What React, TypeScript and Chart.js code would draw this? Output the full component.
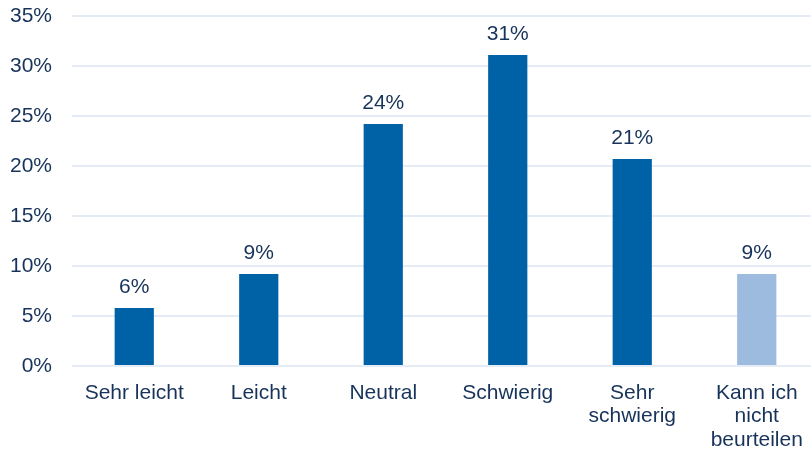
import React, { useEffect, useRef } from "react";
import { Chart, registerables } from "chart.js";

Chart.register(...registerables);

const categories: (string | string[])[] = [
  "Sehr leicht",
  "Leicht",
  "Neutral",
  "Schwierig",
  ["Sehr", "schwierig"],
  ["Kann ich", "nicht", "beurteilen"],
];
const values = [5.8, 9.2, 24.2, 31.1, 20.7, 9.2];
const valueLabels = ["6%", "9%", "24%", "31%", "21%", "9%"];
const barColors = ["#0062A6", "#0062A6", "#0062A6", "#0062A6", "#0062A6", "#9DBADF"];
const yTicks = [0, 5, 10, 15, 20, 25, 30, 35];

const TEXT = "#17335A";
const FONT = "'Liberation Sans', Arial, sans-serif";

const labelPlugin = {
  id: "valueLabels",
  afterDatasetsDraw(chart: any) {
    const ctx = chart.ctx;
    const meta = chart.getDatasetMeta(0);
    ctx.save();
    ctx.fillStyle = TEXT;
    ctx.font = `21px ${FONT}`;
    ctx.textAlign = "center";
    ctx.textBaseline = "alphabetic";
    meta.data.forEach((bar: any, i: number) => {
      ctx.fillText(valueLabels[i], bar.x, bar.y - 15);
    });
    ctx.restore();
  },
};

export default function App() {
  const ref = useRef<HTMLCanvasElement>(null);
  useEffect(() => {
    if (!ref.current) return;
    const chart = new Chart(ref.current, {
      type: "bar",
      data: {
        labels: categories,
        datasets: [
          {
            data: values,
            backgroundColor: barColors,
            categoryPercentage: 1,
            barPercentage: 0.315,
          },
        ],
      },
      options: {
        animation: false,
        responsive: false,
        maintainAspectRatio: false,
        layout: { padding: { top: 16, right: 0, left: 0, bottom: 0 } },
        plugins: { legend: { display: false }, tooltip: { enabled: false } },
        scales: {
          x: {
            grid: { display: false },
            border: { display: false },
            ticks: {
              color: TEXT,
              font: { family: FONT, size: 21, lineHeight: 1.13 },
              padding: 7,
              maxRotation: 0,
              autoSkip: false,
            },
            afterFit: (s: any) => {
              s.height = 84;
            },
          },
          y: {
            min: 0,
            max: 35,
            afterBuildTicks: (s: any) => {
              s.ticks = yTicks.map((v) => ({ value: v }));
            },
            grid: { color: "#E6ECF5", lineWidth: 2, drawTicks: false },
            border: { display: false },
            ticks: {
              color: TEXT,
              font: { family: FONT, size: 21 },
              padding: 20,
              callback: (v: any) => `${v}%`,
            },
            afterFit: (s: any) => {
              s.width = 72;
              s.paddingTop = 0;
              s.paddingBottom = 0;
            },
          },
        },
      },
      plugins: [labelPlugin],
    });
    return () => chart.destroy();
  }, []);
  return (
    <div
      style={{
        position: "fixed",
        left: 0,
        top: 0,
        width: 811,
        height: 450,
        overflow: "hidden",
        background: "#fff",
      }}
    >
      <canvas ref={ref} width={819} height={450} style={{ display: "block" }} />
    </div>
  );
}
